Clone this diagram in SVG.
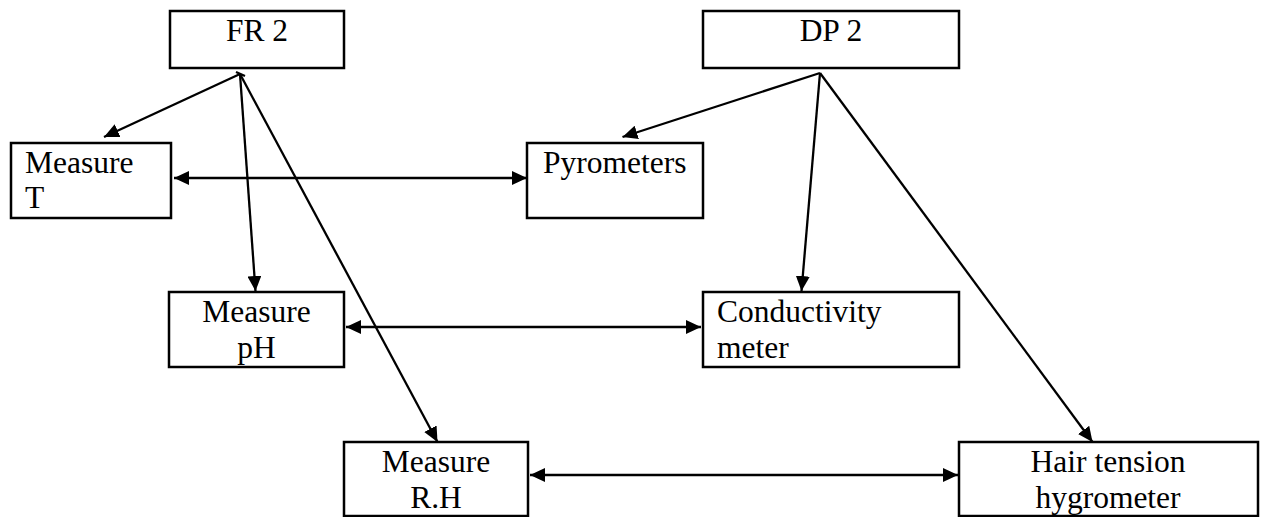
<svg xmlns="http://www.w3.org/2000/svg" width="1262" height="517" viewBox="0 0 1262 517">
  <style>
    .box { fill: #fff; stroke: #000; stroke-width: 2.5; }
    .lbl { font-family: "Liberation Serif", "Times New Roman", serif; font-size: 31.5px; fill: #000; }
    .mid { text-anchor: middle; }
    .edge { stroke: #000; stroke-width: 2.3; fill: none; }
  </style>
  <defs>
    <marker id="head" viewBox="0 0 15 14" refX="15" refY="7" markerWidth="15" markerHeight="14" markerUnits="userSpaceOnUse" orient="auto-start-reverse">
      <path d="M0,0 L15,7 L0,14 Z" fill="#000"/>
    </marker>
  </defs>
  <rect width="1262" height="517" fill="#fff"/>

  <g id="fr2">
    <rect class="box" x="170" y="11" width="174" height="57"/>
    <text class="lbl mid" x="257" y="41">FR 2</text>
  </g>
  <g id="dp2">
    <rect class="box" x="703" y="11" width="256" height="57"/>
    <text class="lbl mid" x="831" y="41">DP 2</text>
  </g>
  <g id="measure-t">
    <rect class="box" x="11" y="143" width="160" height="75"/>
    <text class="lbl" x="25" y="173">Measure</text>
    <text class="lbl" x="25" y="208">T</text>
  </g>
  <g id="pyrometers">
    <rect class="box" x="527" y="143" width="176" height="75"/>
    <text class="lbl" x="543" y="173">Pyrometers</text>
  </g>
  <g id="measure-ph">
    <rect class="box" x="169" y="292" width="175" height="75"/>
    <text class="lbl mid" x="256.5" y="321.5">Measure</text>
    <text class="lbl mid" x="256.5" y="358">pH</text>
  </g>
  <g id="conductivity">
    <rect class="box" x="703" y="292" width="256" height="75"/>
    <text class="lbl" x="717" y="321.5">Conductivity</text>
    <text class="lbl" x="717" y="358">meter</text>
  </g>
  <g id="measure-rh">
    <rect class="box" x="344" y="442" width="184" height="74"/>
    <text class="lbl mid" x="436" y="471.5">Measure</text>
    <text class="lbl mid" x="436" y="508">R.H</text>
  </g>
  <g id="hygrometer">
    <rect class="box" x="959" y="442" width="299" height="74"/>
    <text class="lbl mid" x="1108" y="471.5">Hair tension</text>
    <text class="lbl mid" x="1108" y="508">hygrometer</text>
  </g>

  <g id="connectors">
    <!-- FR 2 decomposition -->
    <line class="edge" x1="240" y1="74" x2="104" y2="137" marker-end="url(#head)"/>
    <line class="edge" x1="240" y1="74" x2="255.5" y2="291" marker-end="url(#head)"/>
    <line class="edge" x1="240" y1="74" x2="437.5" y2="442" marker-end="url(#head)"/>
    <line class="edge" x1="236" y1="72" x2="245" y2="76"/>
    <!-- DP 2 decomposition -->
    <line class="edge" x1="820" y1="73" x2="622.5" y2="137" marker-end="url(#head)"/>
    <line class="edge" x1="820" y1="73" x2="801.5" y2="291" marker-end="url(#head)"/>
    <line class="edge" x1="820" y1="73" x2="1092.5" y2="442" marker-end="url(#head)"/>
    <!-- FR to DP mapping -->
    <line class="edge" x1="174" y1="178" x2="527" y2="178" marker-start="url(#head)" marker-end="url(#head)"/>
    <line class="edge" x1="346" y1="327" x2="701" y2="327" marker-start="url(#head)" marker-end="url(#head)"/>
    <line class="edge" x1="530" y1="475" x2="958" y2="475" marker-start="url(#head)" marker-end="url(#head)"/>
  </g>
</svg>
